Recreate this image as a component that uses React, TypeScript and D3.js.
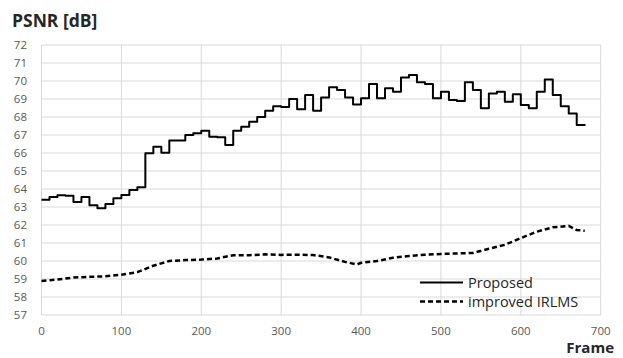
import * as d3 from "d3";
import { useEffect, useRef } from "react";

// proposed method, one value per 10-frame block (step line)
const proposedFrames = d3.range(0, 690, 10);
const proposedPsnr = [
  63.4, 63.55, 63.65, 63.62, 63.28, 63.55, 63.1, 62.93, 63.17, 63.48,
  63.67, 63.94, 64.1, 65.98, 66.35, 66.02, 66.7, 66.7, 67.0, 67.1,
  67.24, 66.9, 66.88, 66.45, 67.24, 67.46, 67.74, 68.0, 68.35, 68.6,
  68.56, 69.0, 68.43, 69.22, 68.35, 69.09, 69.65, 69.5, 69.09, 68.7,
  69.04, 69.83, 69.04, 69.6, 69.4, 70.2, 70.33, 69.93, 69.83, 69.04,
  69.4, 68.94, 68.89, 69.93, 69.5, 68.48, 69.3, 69.4, 68.85, 69.26,
  68.67, 68.48, 69.4, 70.09, 69.22, 68.6, 68.2, 67.56, 67.52,
];

// improved IRLMS
const irlmsFrames = [
  0, 20, 40, 60, 80, 100, 120, 140, 160, 180, 200, 220, 240, 260, 280, 300,
  320, 340, 360, 380, 395, 400, 420, 440, 460, 480, 500, 520, 540, 560, 580,
  600, 620, 640, 660, 670, 680,
];
const irlmsPsnr = [
  58.89, 58.97, 59.08, 59.12, 59.15, 59.24, 59.38, 59.74, 60.0, 60.05, 60.08,
  60.14, 60.32, 60.32, 60.37, 60.34, 60.35, 60.33, 60.2, 59.95, 59.81, 59.9,
  60.0, 60.18, 60.28, 60.35, 60.39, 60.42, 60.45, 60.68, 60.9, 61.27, 61.63,
  61.87, 61.95, 61.72, 61.68,
];

const xTicks = [0, 100, 200, 300, 400, 500, 600, 700];
const yTicks = d3.range(57, 73, 1);

export default function App() {
  const svgRef = useRef(null);

  useEffect(() => {
    document.body.style.margin = "0";
    const width = 623;
    const height = 358;
    const svg = d3.select(svgRef.current).attr("width", width).attr("height", height);
    svg.selectAll("*").remove();

    const font = "'Open Sans', 'Noto Sans', sans-serif";
    const x = d3.scaleLinear().domain([0, 700]).range([41.5, 600.7]);
    const y = d3.scaleLinear().domain([57, 72]).range([315, 45]);

    // gridlines
    svg
      .append("g")
      .selectAll("line")
      .data(yTicks)
      .enter()
      .append("line")
      .attr("x1", x(0))
      .attr("x2", x(700))
      .attr("y1", (d) => y(d))
      .attr("y2", (d) => y(d))
      .attr("stroke", "#d9d9d9")
      .attr("stroke-width", 1);
    svg
      .append("g")
      .selectAll("line")
      .data(xTicks)
      .enter()
      .append("line")
      .attr("x1", (d) => x(d))
      .attr("x2", (d) => x(d))
      .attr("y1", y(57))
      .attr("y2", y(72))
      .attr("stroke", "#d9d9d9")
      .attr("stroke-width", 1);

    // tick labels
    svg
      .append("g")
      .selectAll("text")
      .data(yTicks)
      .enter()
      .append("text")
      .attr("x", 27)
      .attr("y", (d) => y(d) + 4)
      .attr("text-anchor", "end")
      .attr("font-family", font)
      .attr("font-size", 11.5)
      .attr("fill", "#595959")
      .text((d) => d);
    svg
      .append("g")
      .selectAll("text")
      .data(xTicks)
      .enter()
      .append("text")
      .attr("x", (d) => x(d))
      .attr("y", 335)
      .attr("text-anchor", "middle")
      .attr("font-family", font)
      .attr("font-size", 11.5)
      .attr("fill", "#595959")
      .text((d) => d);

    // lines
    const proposed = proposedFrames.map((f, i) => [f, proposedPsnr[i]]);
    const irlms = irlmsFrames.map((f, i) => [f, irlmsPsnr[i]]);
    const stepLine = d3
      .line()
      .x((d) => x(d[0]))
      .y((d) => y(d[1]))
      .curve(d3.curveStepAfter);
    const plainLine = d3
      .line()
      .x((d) => x(d[0]))
      .y((d) => y(d[1]));

    svg
      .append("path")
      .datum(irlms)
      .attr("d", plainLine)
      .attr("fill", "none")
      .attr("stroke", "#000")
      .attr("stroke-width", 2.5)
      .attr("stroke-dasharray", "5,3");
    svg
      .append("path")
      .datum(proposed)
      .attr("d", stepLine)
      .attr("fill", "none")
      .attr("stroke", "#000")
      .attr("stroke-width", 2)
      .attr("stroke-linejoin", "round");

    // legend
    const legend = [
      { label: "Proposed", dash: null, w: 2, yy: 282.5 },
      { label: "improved IRLMS", dash: "5,3", w: 2.5, yy: 301.5 },
    ];
    legend.forEach((l) => {
      svg
        .append("line")
        .attr("x1", 420)
        .attr("x2", 463)
        .attr("y1", l.yy)
        .attr("y2", l.yy)
        .attr("stroke", "#000")
        .attr("stroke-width", l.w)
        .attr("stroke-dasharray", l.dash);
      svg
        .append("text")
        .attr("x", 468)
        .attr("y", l.yy + 5)
        .attr("font-family", font)
        .attr("font-size", 14.5)
        .attr("fill", "#262626")
        .text(l.label);
    });

    // axis titles
    svg
      .append("text")
      .attr("x", 12)
      .attr("y", 27)
      .attr("font-family", font)
      .attr("font-size", 17.5)
      .attr("font-weight", "bold")
      .attr("fill", "#262626")
      .text("PSNR [dB]");
    svg
      .append("text")
      .attr("x", 614)
      .attr("y", 353)
      .attr("text-anchor", "end")
      .attr("font-family", font)
      .attr("font-size", 15)
      .attr("font-weight", "bold")
      .attr("fill", "#262626")
      .text("Frame");
  }, []);

  return <svg ref={svgRef}></svg>;
}
